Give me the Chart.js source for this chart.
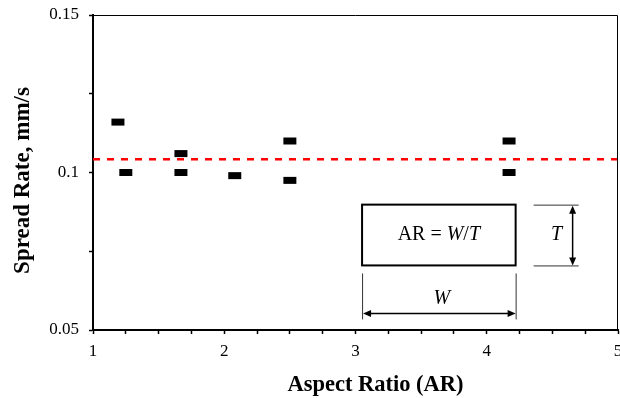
<!DOCTYPE html>
<html>
<head>
<meta charset="utf-8">
<script src="https://cdn.jsdelivr.net/npm/chart.js"></script>
<style>
    html, body { margin: 0; padding: 0; background: #fff; }
    #wrap { width: 620px; height: 398px; }
</style>
</head>
<body>
<div id="wrap"><canvas id="spreadChart"></canvas></div>
<script>
// Measured spread rates vs aspect ratio
const aspectRatios = [1.19, 1.25, 1.67, 1.67, 2.08, 2.5, 2.5, 4.17, 4.17];
const spreadRates = [0.116, 0.1, 0.106, 0.1, 0.099, 0.11, 0.0975, 0.11, 0.1];
const meanRate = 0.1042;
const xRange = [1, 5];
const yRange = [0.05, 0.15];
const xLabels = ['1', '2', '3', '4', '5'];
const yLabels = ['0.05', '0.1', '0.15'];

const SERIF = '"Liberation Serif", "Times New Roman", serif';

// sketch of the specimen (AR = W/T), placed in data units
const insetBox = { x0: 3.05, x1: 4.22, y0: 0.0705, y1: 0.0898 };

function arrowHead(ctx, x, y, dir) {
    // dir: 'up' | 'down' | 'left' | 'right'
    const L = 8, H = 3.5;
    ctx.beginPath();
    if (dir === 'up') { ctx.moveTo(x, y); ctx.lineTo(x - H, y + L); ctx.lineTo(x + H, y + L); }
    if (dir === 'down') { ctx.moveTo(x, y); ctx.lineTo(x - H, y - L); ctx.lineTo(x + H, y - L); }
    if (dir === 'left') { ctx.moveTo(x, y); ctx.lineTo(x + L, y - H); ctx.lineTo(x + L, y + H); }
    if (dir === 'right') { ctx.moveTo(x, y); ctx.lineTo(x - L, y - H); ctx.lineTo(x - L, y + H); }
    ctx.closePath();
    ctx.fill();
}

const decorPlugin = {
    id: 'decor',
    afterDraw(chart) {
        const { ctx, chartArea: a, scales: { x, y } } = chart;
        ctx.save();
        ctx.fillStyle = '#000';
        ctx.strokeStyle = '#000';

        // thin top + right frame
        ctx.lineWidth = 1;
        ctx.beginPath();
        ctx.moveTo(a.left, a.top + 0.5);
        ctx.lineTo(a.right - 0.5, a.top + 0.5);
        ctx.lineTo(a.right - 0.5, a.bottom);
        ctx.stroke();

        // axis titles
        ctx.textAlign = 'center';
        ctx.textBaseline = 'alphabetic';
        ctx.font = 'bold 22.5px ' + SERIF;
        ctx.fillText('Aspect Ratio (AR)', (a.left + a.right) / 2 + 20, 391);
        ctx.save();
        ctx.font = 'bold 23px ' + SERIF;
        ctx.translate(29, (a.top + a.bottom) / 2 + 8);
        ctx.rotate(-Math.PI / 2);
        ctx.fillText('Spread Rate, mm/s', 0, 0);
        ctx.restore();

        // specimen box
        const bx0 = x.getPixelForValue(insetBox.x0);
        const bx1 = x.getPixelForValue(insetBox.x1);
        const by0 = y.getPixelForValue(insetBox.y1);
        const by1 = y.getPixelForValue(insetBox.y0);
        ctx.lineWidth = 2;
        ctx.strokeRect(bx0, by0, bx1 - bx0, by1 - by0);

        // "AR = W/T"
        const parts = [['AR = ', ''], ['W', 'italic '], ['/', ''], ['T', 'italic ']];
        let total = 0;
        parts.forEach(p => { ctx.font = p[1] + '20px ' + SERIF; total += ctx.measureText(p[0]).width; });
        let cx = (bx0 + bx1) / 2 - total / 2;
        const cy = (by0 + by1) / 2;
        ctx.textAlign = 'left';
        ctx.textBaseline = 'middle';
        parts.forEach(p => {
            ctx.font = p[1] + '20px ' + SERIF;
            ctx.fillText(p[0], cx, cy);
            cx += ctx.measureText(p[0]).width;
        });

        // T dimension
        ctx.lineWidth = 1;
        ctx.strokeStyle = '#333';
        ctx.beginPath();
        ctx.moveTo(bx1 + 18, by0 + 0.5); ctx.lineTo(bx1 + 63, by0 + 0.5);
        ctx.moveTo(bx1 + 18, by1 + 0.5); ctx.lineTo(bx1 + 63, by1 + 0.5);
        ctx.stroke();
        const tx = bx1 + 57;
        ctx.strokeStyle = '#000';
        ctx.lineWidth = 1.5;
        ctx.beginPath();
        ctx.moveTo(tx, by0 + 4); ctx.lineTo(tx, by1 - 4);
        ctx.stroke();
        arrowHead(ctx, tx, by0 + 1, 'up');
        arrowHead(ctx, tx, by1, 'down');
        ctx.font = 'italic 20px ' + SERIF;
        ctx.textAlign = 'center';
        ctx.fillText('T', bx1 + 41, cy);

        // W dimension
        ctx.lineWidth = 1;
        ctx.strokeStyle = '#333';
        ctx.beginPath();
        ctx.moveTo(bx0 + 0.5, by1 + 8); ctx.lineTo(bx0 + 0.5, by1 + 54);
        ctx.moveTo(bx1 + 0.5, by1 + 8); ctx.lineTo(bx1 + 0.5, by1 + 54);
        ctx.stroke();
        const wy = by1 + 48;
        ctx.strokeStyle = '#000';
        ctx.lineWidth = 1.5;
        ctx.beginPath();
        ctx.moveTo(bx0 + 4, wy); ctx.lineTo(bx1 - 4, wy);
        ctx.stroke();
        arrowHead(ctx, bx0 + 1, wy, 'left');
        arrowHead(ctx, bx1, wy, 'right');
        ctx.fillText('W', (bx0 + bx1) / 2 + 3, by1 + 33);

        ctx.restore();
    }
};

const points = aspectRatios.map((ar, i) => ({ x: ar, y: spreadRates[i] }));

new Chart(document.getElementById('spreadChart'), {
    type: 'scatter',
    data: {
        datasets: [{
            label: 'Measured',
            data: points,
            pointStyle: 'line',
            pointRadius: 6.5,
            pointHoverRadius: 6.5,
            pointBorderWidth: 7,
            borderColor: '#000',
            backgroundColor: '#000'
        }, {
            type: 'line',
            label: 'Mean',
            data: [{ x: xRange[0], y: meanRate }, { x: xRange[1], y: meanRate }],
            borderColor: '#ff0000',
            borderWidth: 2.5,
            borderDash: [7, 7],
            pointRadius: 0,
            fill: false
        }]
    },
    options: {
        responsive: true,
        maintainAspectRatio: false,
        animation: false,
        events: [],
        layout: { autoPadding: false, padding: { left: 0, right: 2, top: 15, bottom: 0 } },
        plugins: {
            legend: { display: false },
            tooltip: { enabled: false }
        },
        scales: {
            x: {
                type: 'linear',
                min: xRange[0],
                max: xRange[1],
                afterFit: s => { s.paddingLeft = 0; s.paddingRight = 0; s.height = 68; },
                border: { display: true, color: '#000', width: 2 },
                grid: { drawOnChartArea: false, drawTicks: true, tickLength: 4, tickColor: '#000', tickWidth: 1.5 },
                ticks: {
                    stepSize: 0.25,
                    autoSkip: false,
                    maxRotation: 0,
                    padding: 7,
                    color: '#000',
                    font: { family: SERIF, size: 17 },
                    callback: v => xLabels.includes(String(v)) ? String(v) : ''
                }
            },
            y: {
                type: 'linear',
                min: yRange[0],
                max: yRange[1],
                afterFit: s => { s.width = 93; s.paddingTop = 0; s.paddingBottom = 0; },
                border: { display: true, color: '#000', width: 2 },
                grid: { drawOnChartArea: false, drawTicks: true, tickLength: 4, tickColor: '#000', tickWidth: 1.5 },
                ticks: {
                    stepSize: 0.025,
                    autoSkip: false,
                    padding: 10,
                    color: '#000',
                    font: { family: SERIF, size: 17 },
                    callback: v => yLabels.includes(String(v)) ? String(v) : ''
                }
            }
        }
    },
    plugins: [decorPlugin]
});
</script>
</body>
</html>
